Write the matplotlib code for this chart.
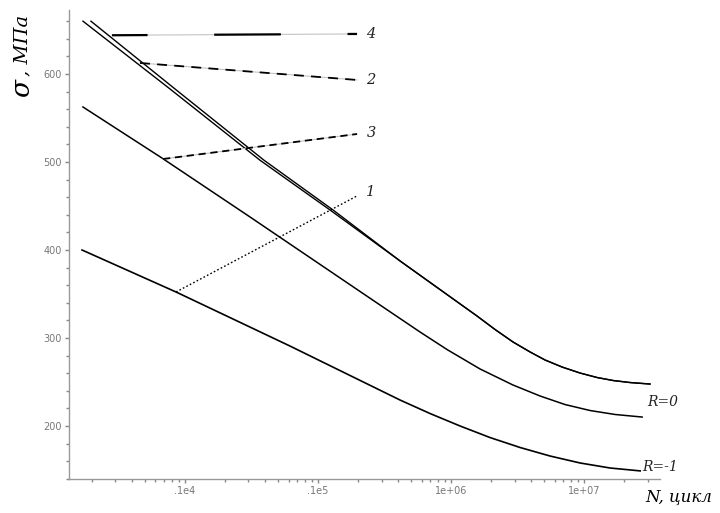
import matplotlib
matplotlib.use("Agg")
import matplotlib.pyplot as plt
from matplotlib.ticker import FixedLocator, LogLocator, MultipleLocator, NullFormatter

# S-N curves (N in cycles, sigma in MPa)
n_top = [1710, 7710, 36640, 123000, 414000, 1.567e6, 2.14e6, 2.92e6, 3.93e6, 5.09e6,
         6.84e6, 9.33e6, 1.253e7, 1.653e7, 2.218e7, 3.13e7]
s_top = [660, 583, 502, 445.5, 387.5, 325, 309.7, 295.5, 284.1, 275.0,
         267.0, 260.2, 255.1, 251.7, 249.4, 247.7]

n_top2 = [1963, 8410, 39270, 129600, 414000, 1.567e6, 2.14e6, 2.92e6, 3.93e6, 5.09e6,
          6.84e6, 9.33e6, 1.253e7, 1.653e7, 2.218e7, 3.13e7]
s_top2 = [660, 583, 502, 445.5, 387.5, 325, 309.7, 295.5, 284.1, 275.0,
          267.0, 260.2, 255.1, 251.7, 249.4, 247.7]

n_r0 = [1710, 6710, 30830, 292400, 584800, 933000, 1.652e6, 2.92e6, 4.67e6, 7.19e6,
        1.11e7, 1.71e7, 2.73e7]
s_r0 = [562.5, 504.5, 437.5, 337.5, 306.8, 286.9, 264.8, 246.6, 234.1, 224.4,
        217.6, 213.1, 210.2]

n_rm1 = [1683, 8560, 61500, 414000, 695000, 1.170e6, 1.963e6, 3.30e6, 5.55e6, 9.33e6,
         1.567e7, 2.64e7]
s_rm1 = [400, 352.3, 290.9, 229.5, 214.2, 200, 186.9, 175.6, 165.9, 158.0,
         152.3, 149.0]

# leader lines to the curve numbers
n_lead = [(2826, 196300), (4590, 196300), (6840, 196300), (8560, 196300)]
s_lead = [(644, 645.5), (612.5, 593.2), (503.4, 531.8), (352.3, 461.4)]
lead_names = ["4", "2", "3", "1"]
label_n = 250000
label_s = [645.5, 593.2, 533.5, 466]

xtick_vals = [1e4, 1e5, 1e6, 1e7]
xtick_text = [".1e4", ".1e5", "1e+06", "1e+07"]
ytick_vals = [200, 300, 400, 500, 600]

fig = plt.figure(figsize=(7.2, 5.13), dpi=100)
ax = fig.add_axes([69 / 720, 1 - 479 / 513, 591 / 720, 469 / 513])
ax.set_xscale("log")
ax.set_xlim(1343, 3.72e7)
ax.set_ylim(139.8, 672.7)

ax.plot(n_top, s_top, color="black", lw=1.0)
ax.plot(n_top2, s_top2, color="black", lw=1.0)
ax.plot(n_r0, s_r0, color="black", lw=1.1)
ax.plot(n_rm1, s_rm1, color="black", lw=1.2)

styles = [(14, (30, 30)), (0, (5.5, 4)), (0, (4, 2.6)), (0, (1.2, 1.6))]
widths = [1.6, 1.3, 1.3, 1.0]
for i in range(4):
    if i < 3:
        ax.plot(n_lead[i], s_lead[i], color="#bbbbbb", lw=0.7)
    ax.plot(n_lead[i], s_lead[i], color="black", lw=widths[i], linestyle=styles[i])
    ax.text(label_n, label_s[i], lead_names[i], fontsize=10.5, style="italic",
            family="DejaVu Serif", ha="center", va="center", color="#222222")

ax.text(3.9e7, 227, "R=0", fontsize=10, style="italic", family="DejaVu Serif",
        ha="center", va="center", clip_on=False, color="#222222")
ax.text(3.72e7, 154, "R=-1", fontsize=10, style="italic", family="DejaVu Serif",
        ha="center", va="center", clip_on=False, color="#222222")

for side in ["top", "right"]:
    ax.spines[side].set_visible(False)
for side in ["left", "bottom"]:
    ax.spines[side].set_color("#999999")
    ax.spines[side].set_linewidth(1.0)

ax.xaxis.set_major_locator(FixedLocator(xtick_vals))
ax.set_xticklabels(xtick_text)
ax.xaxis.set_minor_locator(LogLocator(base=10, subs=range(2, 10), numticks=20))
ax.xaxis.set_minor_formatter(NullFormatter())
ax.set_yticks(ytick_vals)
ax.yaxis.set_minor_locator(MultipleLocator(20))
ax.tick_params(axis="both", which="major", direction="out", length=3, width=1,
               color="#888888", labelsize=7, labelcolor="#777777", pad=2)
ax.tick_params(axis="both", which="minor", direction="out", length=2, width=1,
               color="#888888")

fig.text(22 / 720, 1 - 88 / 513, "σ", rotation=90, fontsize=19, style="italic",
         family="DejaVu Serif", ha="center", va="center")
fig.text(22 / 720, 1 - 45 / 513, ", МПа", rotation=90, fontsize=14, style="italic",
         family="DejaVu Serif", ha="center", va="center")
fig.text(679 / 720, 1 - 497 / 513, "N, цикл", fontsize=12, style="italic",
         family="DejaVu Serif", ha="center", va="center")

fig.savefig("out.png", dpi=100)
